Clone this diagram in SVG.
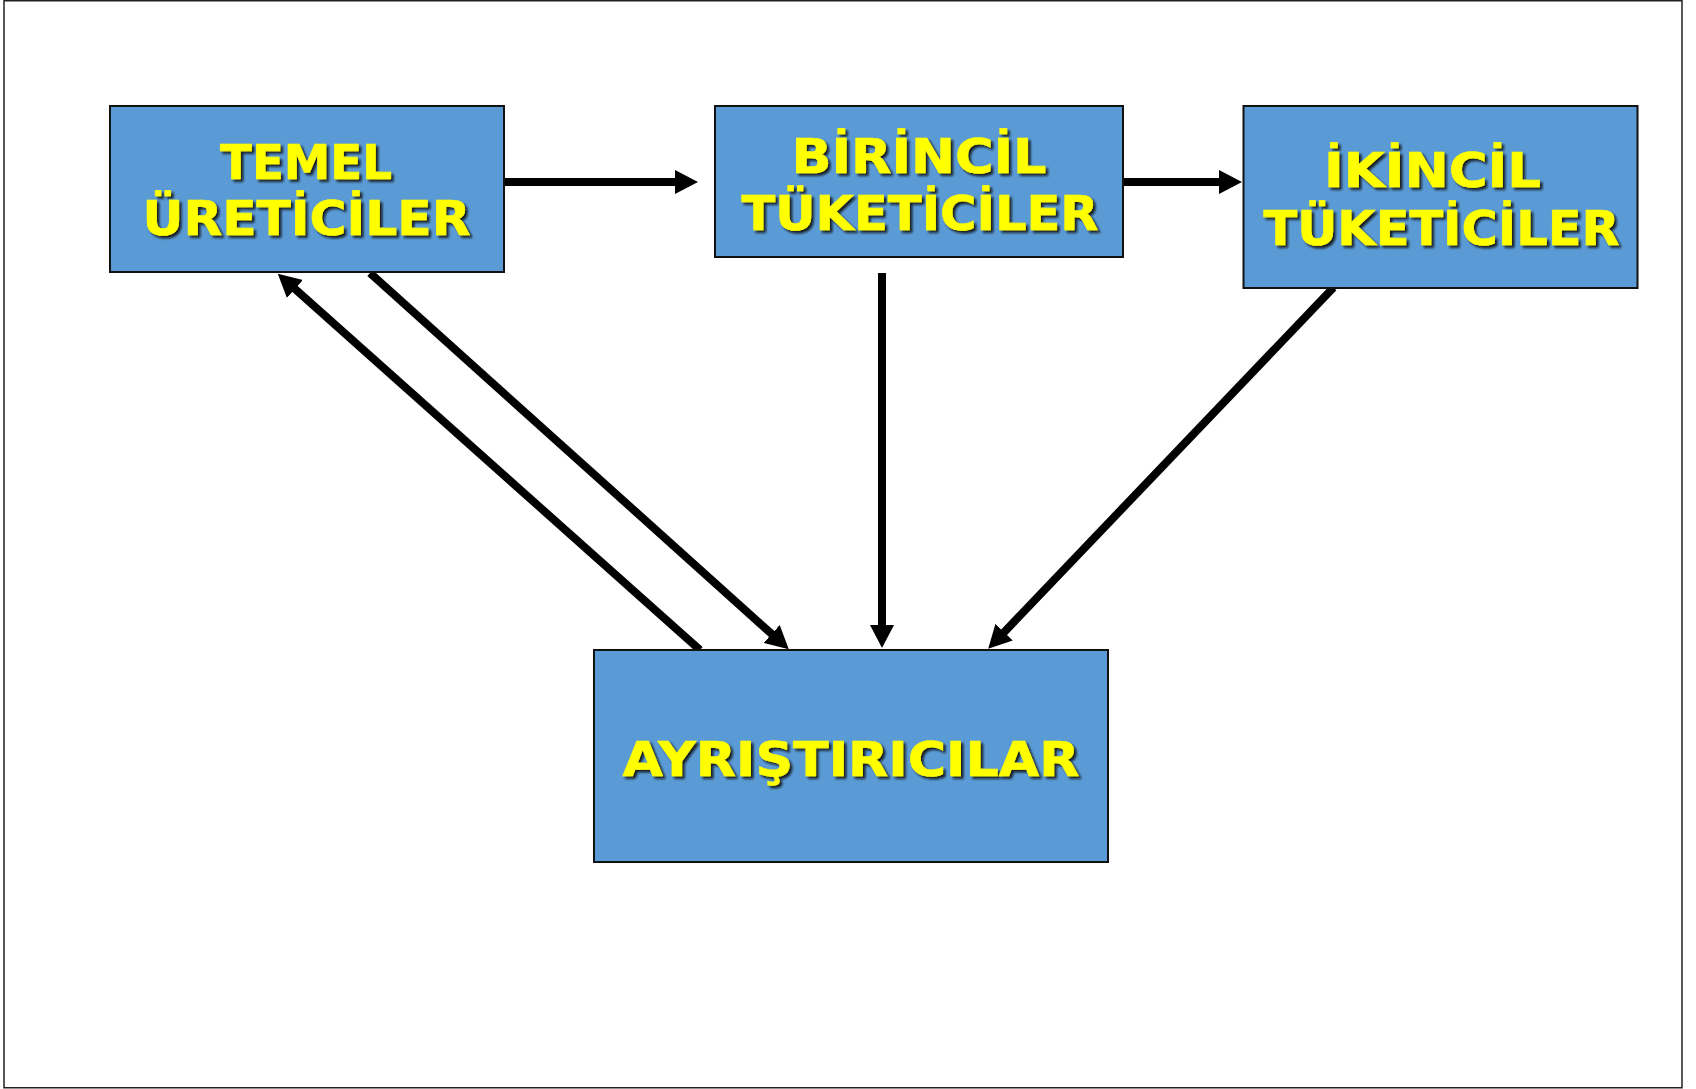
<svg xmlns="http://www.w3.org/2000/svg" width="1696" height="1089" viewBox="0 0 1696 1089">
  <defs>
    <style>
      .box { fill: #5B9BD5; stroke: #111; stroke-width: 2; }
      .label { font-family: "DejaVu Sans", Verdana, sans-serif; font-weight: bold; font-size: 48px; fill: #FFFF00; stroke: #FFFF00; stroke-width: 0.6; text-anchor: middle; }
      .link { stroke: #000; stroke-width: 8; fill: none; stroke-linecap: butt; }
    </style>
    <filter id="shadow" x="-5%" y="-20%" width="110%" height="140%">
      <feDropShadow dx="2.5" dy="2.5" stdDeviation="0.8" flood-color="#111" flood-opacity="0.9"/>
    </filter>
    <marker id="head" viewBox="0 0 23 24" markerWidth="23" markerHeight="24" refX="1" refY="12" orient="auto" markerUnits="userSpaceOnUse">
      <path d="M0,0 L23,12 L0,24 Z" fill="#000"/>
    </marker>
  </defs>

  <!-- page frame -->
  <rect x="4" y="0.75" width="1678" height="1087" fill="#fff" stroke="#222" stroke-width="1.5"/>

  <!-- connectors -->
  <g id="connectors">
    <line class="link" x1="504" y1="182" x2="676" y2="182" marker-end="url(#head)"/>
    <line class="link" x1="1123" y1="182" x2="1220" y2="182" marker-end="url(#head)"/>
    <line class="link" x1="882" y1="273" x2="882" y2="626" marker-end="url(#head)"/>
    <line class="link" x1="1333.5" y1="287.5" x2="1003.4" y2="632.9" marker-end="url(#head)"/>
    <line class="link" x1="370" y1="273" x2="772.4" y2="634.6" marker-end="url(#head)"/>
    <line class="link" x1="700" y1="650" x2="294.2" y2="288.3" marker-end="url(#head)"/>
  </g>

  <!-- producers -->
  <g id="temel-ureticiler">
    <rect class="box" x="110" y="106" width="394" height="166"/>
    <g filter="url(#shadow)">
      <text class="label" x="306" y="178.5" textLength="172" lengthAdjust="spacingAndGlyphs">TEMEL</text>
      <text class="label" x="306.5" y="234.5" textLength="328" lengthAdjust="spacingAndGlyphs">ÜRETİCİLER</text>
    </g>
  </g>

  <!-- primary consumers -->
  <g id="birincil-tuketiciler">
    <rect class="box" x="715" y="106" width="408" height="151"/>
    <g filter="url(#shadow)">
      <text class="label" x="919" y="173" textLength="255" lengthAdjust="spacingAndGlyphs">BİRİNCİL</text>
      <text class="label" x="920" y="229.5" textLength="357" lengthAdjust="spacingAndGlyphs">TÜKETİCİLER</text>
    </g>
  </g>

  <!-- secondary consumers -->
  <g id="ikincil-tuketiciler">
    <rect class="box" x="1243.5" y="106" width="394" height="182"/>
    <g filter="url(#shadow)">
      <text class="label" x="1432.5" y="186.5" textLength="217" lengthAdjust="spacingAndGlyphs">İKİNCİL</text>
      <text class="label" x="1441.5" y="245" textLength="356" lengthAdjust="spacingAndGlyphs">TÜKETİCİLER</text>
    </g>
  </g>

  <!-- decomposers -->
  <g id="ayristiricilar">
    <rect class="box" x="594" y="650" width="514" height="212"/>
    <g filter="url(#shadow)">
      <text class="label" x="851" y="776" textLength="457" lengthAdjust="spacingAndGlyphs">AYRIŞTIRICILAR</text>
    </g>
  </g>
</svg>
